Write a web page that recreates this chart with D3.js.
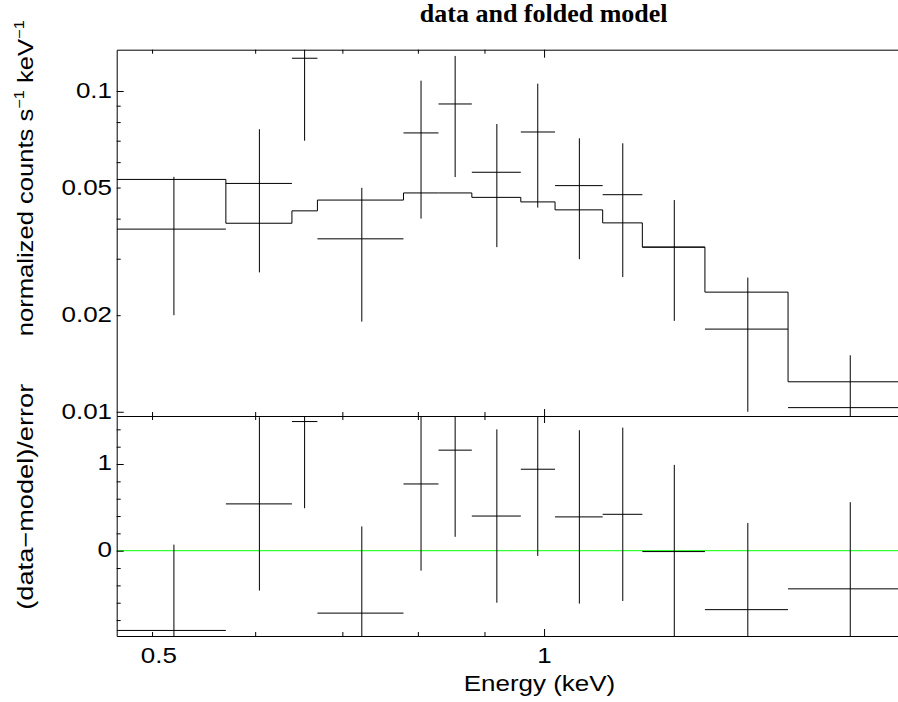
<!DOCTYPE html>
<html><head><meta charset="utf-8">
<script src="https://cdn.jsdelivr.net/npm/d3@7"></script>
<style>body{margin:0;background:#fff} svg{display:block;background:#fff}</style>
</head><body>
<svg id="chart" width="898" height="702"></svg>
<script>
// ---- data ----
const eLow   = [0.4697,0.5697,0.6403,0.6698,0.7799,0.8297,0.8801,0.9597,1.0196,1.1092,1.1898,1.3290,1.5394];
const eHigh  = [0.5697,0.6403,0.6698,0.7799,0.8297,0.8801,0.9597,1.0196,1.1092,1.1898,1.3290,1.5394,1.8974];
const eMid   = [0.5197,0.6045,0.6548,0.7245,0.8045,0.8545,0.9199,0.9889,1.0644,1.1493,1.2589,1.4337,1.7184];
const rate   = [0.0371,0.0515,0.1265,0.0346,0.0740,0.0911,0.0558,0.0745,0.0507,0.0475,0.0326,0.0181,0.0103];
const rateLo = [0.0200,0.0272,0.0700,0.0191,0.0400,0.0539,0.0326,0.0433,0.0299,0.0263,0.0192,0.0100,0.0056];
const rateHi = [0.0540,0.0760,0.1830,0.0499,0.1077,0.1286,0.0789,0.1054,0.0712,0.0687,0.0457,0.0262,0.0150];
const model  = [0.0530,0.0387,0.0423,0.0457,0.0481,0.0481,0.0466,0.0451,0.0426,0.0388,0.0326,0.0236,0.0124];
const resid    = [-0.92,0.54,1.49,-0.72,0.77,1.16,0.40,0.94,0.39,0.42,-0.01,-0.68,-0.44];
const residErr = [0.99,1.00,1.00,1.00,1.00,1.00,1.00,1.00,1.00,1.00,1.00,1.00,1.00];

const xMinorTicks = [0.5,0.6,0.7,0.8,0.9];
const xMajorTicks = [1];
const xTickLabels = [0.5,1];
const yTopMinorTicks = [0.02,0.03,0.04,0.05,0.06,0.07,0.08,0.09];
const yTopMajorTicks = [0.01,0.1];
const yTopTickLabels = [0.01,0.02,0.05,0.1];
const yResMinorTicks = [-0.8,-0.6,-0.4,-0.2,0.2,0.4,0.6,0.8,1.2,1.4];
const yResMajorTicks = [0,1];
const yResTickLabels = [0,1];

const titleText = "data and folded model";
const xTitle = "Energy (keV)";
const yResTitle = "(data\u2212model)/error";

// ---- layout ----
const W = 898, H = 702;
const L = 116.7, R = 906.3, T = 49.7, MID = 416, B = 636;
const STRETCH = 1.18;
const sans = "'Liberation Sans', Arial, Helvetica, sans-serif";

const svg = d3.select("#chart");
const x = d3.scaleLog().domain([0.4697, 1.8974]).range([L, R]);
const yTop = d3.scaleLog().domain([0.0097, 0.1345]).range([MID, T]);
const yRes = d3.scaleLinear().domain([-0.984, 1.554]).range([B, MID]);

const defs = svg.append("defs");
defs.append("clipPath").attr("id","clipTop").append("rect")
  .attr("x",L).attr("y",T).attr("width",W-L).attr("height",MID-T);
defs.append("clipPath").attr("id","clipBot").append("rect")
  .attr("x",L).attr("y",MID).attr("width",W-L).attr("height",B-MID);

const idx = d3.range(rate.length);

// ---- top panel marks ----
const gTop = svg.append("g").attr("clip-path","url(#clipTop)")
  .attr("stroke","#000").attr("stroke-width",1).attr("fill","none");
const stepPts = [];
idx.forEach(i => { stepPts.push([eLow[i], model[i]]); stepPts.push([eHigh[i], model[i]]); });
gTop.append("path")
  .attr("d", d3.line().x(d => x(d[0])).y(d => yTop(d[1]))(stepPts));
gTop.selectAll("line.h").data(idx).join("line").attr("class","h")
  .attr("x1", i => x(eLow[i])).attr("x2", i => x(eHigh[i]))
  .attr("y1", i => yTop(rate[i])).attr("y2", i => yTop(rate[i]));
gTop.selectAll("line.v").data(idx).join("line").attr("class","v")
  .attr("x1", i => x(eMid[i])).attr("x2", i => x(eMid[i]))
  .attr("y1", i => yTop(rateLo[i])).attr("y2", i => yTop(rateHi[i]));

// ---- bottom panel marks ----
const gBot = svg.append("g").attr("clip-path","url(#clipBot)")
  .attr("stroke","#000").attr("stroke-width",1).attr("fill","none");
gBot.append("line").attr("stroke","#00ff00")
  .attr("x1", L).attr("x2", W).attr("y1", yRes(0)).attr("y2", yRes(0));
gBot.selectAll("line.h").data(idx).join("line").attr("class","h")
  .attr("x1", i => x(eLow[i])).attr("x2", i => x(eHigh[i]))
  .attr("y1", i => yRes(resid[i])).attr("y2", i => yRes(resid[i]));
gBot.selectAll("line.v").data(idx).join("line").attr("class","v")
  .attr("x1", i => x(eMid[i])).attr("x2", i => x(eMid[i]))
  .attr("y1", i => yRes(resid[i] - residErr[i])).attr("y2", i => yRes(resid[i] + residErr[i]));

// ---- axes ----
function tickAxis(gen, vals, size, pos, withDomain) {
  const g = svg.append("g").attr("transform", pos)
    .call(gen.tickValues(vals).tickSize(size).tickSizeOuter(0).tickFormat(""));
  if (!withDomain) g.select(".domain").remove();
  g.selectAll("line, path").attr("stroke","#000").attr("stroke-width",1);
  return g;
}
// top panel
tickAxis(d3.axisTop(x), xMinorTicks, -4, `translate(0,${T})`, true);
tickAxis(d3.axisTop(x), xMajorTicks, -8, `translate(0,${T})`, false);
tickAxis(d3.axisBottom(x), xMinorTicks, -4, `translate(0,${MID})`, true);
tickAxis(d3.axisBottom(x), xMajorTicks, -7, `translate(0,${MID})`, false);
tickAxis(d3.axisLeft(yTop), yTopMinorTicks, -4, `translate(${L},0)`, true);
tickAxis(d3.axisLeft(yTop), yTopMajorTicks, -7, `translate(${L},0)`, false);
// bottom panel
tickAxis(d3.axisTop(x), xMinorTicks, -4, `translate(0,${MID})`, false);
tickAxis(d3.axisTop(x), xMajorTicks, -7, `translate(0,${MID})`, false);
tickAxis(d3.axisBottom(x), xMinorTicks, -4, `translate(0,${B})`, true);
tickAxis(d3.axisBottom(x), xMajorTicks, -7, `translate(0,${B})`, false);
tickAxis(d3.axisLeft(yRes), yResMinorTicks, -4, `translate(${L},0)`, true);
tickAxis(d3.axisLeft(yRes), yResMajorTicks, -7, `translate(${L},0)`, false);

// tick labels
function labelAxis(gen, vals, fmt, pos, pad, dy, offsets) {
  const g = svg.append("g").attr("transform", pos)
    .call(gen.tickValues(vals).tickSize(0).tickPadding(pad).tickFormat(fmt));
  g.select(".domain").remove();
  g.selectAll("line").remove();
  g.attr("font-family", sans).attr("font-size", 22);
  g.selectAll("text").attr("fill","#000").attr("dy", dy)
    .attr("transform", d => `translate(${(offsets && offsets[d]) || 0},0) scale(${STRETCH},1)`);
  return g;
}
labelAxis(d3.axisLeft(yTop), yTopTickLabels, d3.format(""), `translate(${L},0)`, 4, "0.3em");
labelAxis(d3.axisLeft(yRes), yResTickLabels, d3.format(""), `translate(${L},0)`, 4, "0.25em");
labelAxis(d3.axisBottom(x), xTickLabels, d3.format(""), `translate(0,${B})`, 11, "0.71em", {0.5: 6.3});

// ---- titles ----
svg.append("text").attr("x", 543.7).attr("y", 22)
  .attr("text-anchor","middle").attr("font-family","'Liberation Serif','Times New Roman',serif")
  .attr("font-weight","bold").attr("font-size",26).attr("fill","#000").text(titleText);

svg.append("text").attr("transform", `translate(539.5,690.5) scale(${STRETCH},1)`)
  .attr("text-anchor","middle").attr("font-family", sans).attr("font-size",22)
  .attr("fill","#000").text(xTitle);

const yt = svg.append("text").attr("transform", `translate(33.3,178.3) rotate(-90)`)
  .attr("text-anchor","middle").attr("font-family", sans).attr("font-size",22).attr("fill","#000")
  .attr("textLength", 316).attr("lengthAdjust","spacingAndGlyphs");
yt.append("tspan").text("normalized counts s");
yt.append("tspan").attr("font-size",14).attr("dy",-9).text("\u22121");
yt.append("tspan").attr("dy",9).text(" keV");
yt.append("tspan").attr("font-size",14).attr("dy",-9).text("\u22121");

svg.append("text").attr("transform", `translate(33.3,496.7) rotate(-90)`)
  .attr("text-anchor","middle").attr("font-family", sans).attr("font-size",22)
  .attr("textLength", 226).attr("lengthAdjust","spacingAndGlyphs")
  .attr("fill","#000").text(yResTitle);
</script>
</body></html>
